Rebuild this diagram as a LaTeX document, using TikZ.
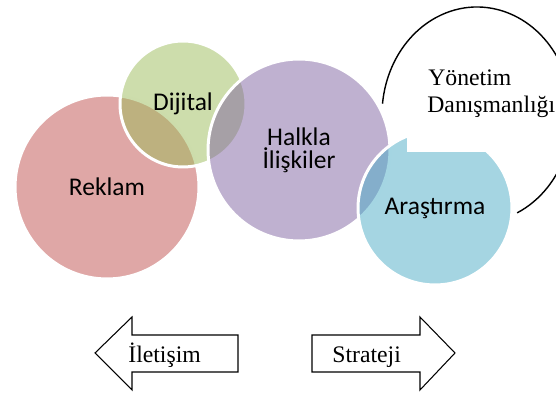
\documentclass[tikz,border=0pt]{standalone}
\usepackage{fontspec}
\setmainfont{Liberation Serif}
\newfontfamily\calibri{Carlito}
\usepackage{xcolor}
\usepackage{tikz}
\usetikzlibrary{positioning}

\definecolor{vred}{RGB}{192,80,77}
\definecolor{vgreen}{RGB}{155,187,89}
\definecolor{vpurple}{RGB}{128,100,162}
\definecolor{vblue}{RGB}{75,172,198}

\begin{document}
\begin{tikzpicture}[x=0.02cm, y=-0.02cm,
	venn/.style={circle, draw=white, line width=1.7pt, fill opacity=0.5, text opacity=1, inner sep=0pt, align=center, font=\calibri\fontsize{14.5}{13}\selectfont},
	txt/.style={inner sep=0pt, font=\fontsize{13.5}{15}\selectfont},
	bigarrow/.style={draw=black, line width=0.6pt, fill=white, line join=miter}]
			\clip (0,0) rectangle (556,394);
			
			\node[venn, fill=vred, minimum size=3.68cm] (reklam) at (107,187) {Reklam};
			\node[venn, fill=vgreen, minimum size=2.52cm] (dijital) at (183,104) {Dijital};
			\node[venn, fill=vpurple, minimum size=3.64cm] (halkla) at (299,150) {Halkla\\İlişkiler};
			\node[venn, fill=vblue, minimum size=3.08cm] (arastirma) at (435,208) {Araştırma};
			
			% text box of the outline
			\fill[white] (407,60) rectangle (550,152);
			\coordinate (yc) at (477,115);
			\draw[line width=0.8pt] (yc) ++(65:95 and 108) arc[start angle=65, end angle=-174, x radius=95, y radius=108];
			\node[txt, anchor=base west] (yonetim) at (428,86) {Yönetim};
			\node[txt, anchor=base west] (danisman) at (427,113) {Danışmanlığı};
			
			\draw[bigarrow] (95,353) -- (132,317) -- (132,335) -- (238,335) -- (238,372) -- (132,372) -- (132,390) -- cycle;
			\draw[bigarrow] (455,353) -- (420,317) -- (420,335) -- (312,335) -- (312,372) -- (420,372) -- (420,390) -- cycle;
			\node[txt, anchor=base west] (iletisim) at (128,363) {İletişim};
			\node[txt, anchor=base west] (strateji) at (332,363) {Strateji};
		\end{tikzpicture}
\end{document}
